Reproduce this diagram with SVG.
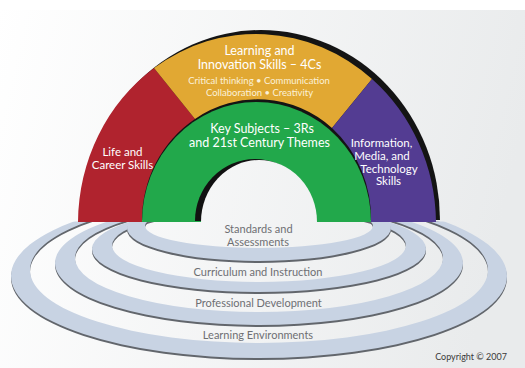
<svg xmlns="http://www.w3.org/2000/svg" xmlns:xlink="http://www.w3.org/1999/xlink" width="525" height="368" viewBox="0 0 525 368">
<defs>
<linearGradient id="bg" gradientUnits="userSpaceOnUse" x1="0" y1="0" x2="525" y2="120">
<stop offset="0" stop-color="#ffffff"/>
<stop offset="1" stop-color="#e9ebec"/>
</linearGradient>
<clipPath id="below"><rect x="0" y="221.5" width="525" height="150"/></clipPath>
<path id="r4" d="M11,276 a248,82 0 1,0 496,0 a248,82 0 1,0 -496,0 Z M30,270 a229,73 0 1,0 458,0 a229,73 0 1,0 -458,0 Z"/>
<path id="r3" d="M55,263 a204,62 0 1,0 408,0 a204,62 0 1,0 -408,0 Z M75,258 a184,54 0 1,0 368,0 a184,54 0 1,0 -368,0 Z"/>
<path id="r2" d="M92,249 a167,43 0 1,0 334,0 a167,43 0 1,0 -334,0 Z M112,245.5 a147,36.5 0 1,0 294,0 a147,36.5 0 1,0 -294,0 Z"/>
<path id="r1" d="M127,228 a132,33 0 1,0 264,0 a132,33 0 1,0 -264,0 Z M145,226 a114,22 0 1,0 228,0 a114,22 0 1,0 -228,0 Z"/>
<style>
.ring{fill:#c8d3e3;fill-rule:evenodd}
.rsh{fill:#62666c;fill-rule:evenodd}
.w{fill:#ffffff;font-family:Lato,"Open Sans","Liberation Sans",sans-serif;text-anchor:middle}
.c{fill:#fbf1d8;font-family:Lato,"Open Sans","Liberation Sans",sans-serif;text-anchor:middle}
.g{fill:#6e6f73;font-family:Lato,"Open Sans","Liberation Sans",sans-serif;text-anchor:middle;font-size:11px}
</style>
</defs>
<rect x="0" y="0" width="525" height="368" fill="#ffffff"/>
<rect x="0" y="10" width="525" height="358" fill="url(#bg)"/>

<g id="rings" clip-path="url(#below)">
<g id="ring-learning-environments">
<use xlink:href="#r4" class="rsh" transform="translate(0,2)"/>
<use xlink:href="#r4" class="ring"/>
</g>
<g id="ring-professional-development">
<use xlink:href="#r3" class="rsh" transform="translate(0,2)"/>
<use xlink:href="#r3" class="ring"/>
</g>
<g id="ring-curriculum">
<use xlink:href="#r2" class="rsh" transform="translate(0,2)"/>
<use xlink:href="#r2" class="ring"/>
</g>
<g id="ring-standards">
<use xlink:href="#r1" class="rsh" transform="translate(0,2)"/>
<use xlink:href="#r1" class="ring"/>
</g>
</g>

<g id="arch">
<path d="M82,221 A179,190 0 0 1 440,221 Z" fill="#141414" transform="translate(0,-1)"/>
<g id="life-career">
<path d="M78,222 A179,190 0 0 1 154,68 L195,119 A114.5,120 0 0 0 142,222 Z" fill="#b0232e"/>
<text class="w" font-size="11.5" x="122.5" y="156">Life and</text>
<text class="w" font-size="11.5" x="122.5" y="169">Career Skills</text>
</g>
<g id="learning-innovation">
<path d="M154,68 A179,190 0 0 1 372,79 L332,128 A114.5,120 0 0 0 195,119 Z" fill="#e1a833"/>
<text class="w" font-size="12.5" x="259.5" y="55">Learning and</text>
<text class="w" font-size="12.5" x="259.5" y="69">Innovation Skills – 4Cs</text>
<text class="c" font-size="9.5" x="259" y="84">Critical thinking • Communication</text>
<text class="c" font-size="9.5" x="259.5" y="96">Collaboration • Creativity</text>
</g>
<g id="info-media-tech">
<path d="M372,79 A179,190 0 0 1 436,222 L371,222 A114.5,120 0 0 0 332,128 Z" fill="#533c92"/>
<text class="w" font-size="11.5" x="381.5" y="147">Information,</text>
<text class="w" font-size="11.5" x="382" y="160">Media, and</text>
<text class="w" font-size="11.5" x="389" y="173">Technology</text>
<text class="w" font-size="11.5" x="388.5" y="185">Skills</text>
</g>
<g id="key-subjects">
<path d="M142,222 A114.5,120 0 0 1 371,222 Z" fill="#22a84b"/>
<path d="M195,221 A60,62 0 0 1 315,221 Z" fill="#111111"/>
<path d="M201,222 A58,62 0 0 1 317,222 Z" fill="url(#bg)"/>
<text class="w" font-size="12.5" x="262" y="133">Key Subjects – 3Rs</text>
<text class="w" font-size="12.5" x="259.5" y="147">and 21st Century Themes</text>
</g>
</g>

<g id="ring-labels">
<text class="g" x="258.5" y="233">Standards and</text>
<text class="g" x="258" y="246">Assessments</text>
<text class="g" x="258" y="276">Curriculum and Instruction</text>
<text class="g" x="258.5" y="307">Professional Development</text>
<text class="g" x="258" y="339">Learning Environments</text>
</g>
<text id="copyright" x="507" y="360" font-size="9" fill="#3a3a3a" font-family="Lato,'Open Sans','Liberation Sans',sans-serif" text-anchor="end">Copyright © 2007</text>
</svg>
